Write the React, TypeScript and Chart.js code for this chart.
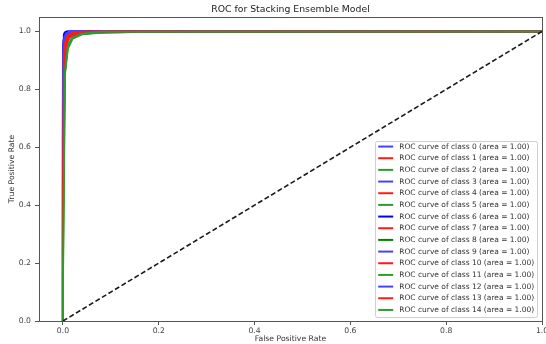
import React, { useEffect, useRef } from "react";
import { Chart, registerables } from "chart.js";

Chart.register(...registerables);

const FONT = "'DejaVu Sans', sans-serif";

const TITLE = "ROC for Stacking Ensemble Model";
const X_LABEL = "False Positive Rate";
const Y_LABEL = "True Positive Rate";
const X_TICKS = [0.0, 0.2, 0.4, 0.6, 0.8, 1.0];
const Y_TICKS = [0.0, 0.2, 0.4, 0.6, 0.8, 1.0];

const CLASS_IDS = [0, 1, 2, 3, 4, 5, 6, 7, 8, 9, 10, 11, 12, 13, 14];
const CLASS_AUC = [1.0, 1.0, 1.0, 1.0, 1.0, 1.0, 1.0, 1.0, 1.0, 1.0, 1.0, 1.0, 1.0, 1.0, 1.0];
const CLASS_COLORS = [
  "#4343ff", "#ff1a1a", "#2f9a2f",
  "#4343ff", "#ff1a1a", "#2f9a2f",
  "#0000ff", "#ff1a1a", "#008000",
  "#4343ff", "#ff1a1a", "#2f9a2f",
  "#4343ff", "#ff1a1a", "#2f9a2f",
];

// ROC curves (false positive rate / true positive rate) per class
const FPR_0 = [0, 0, 0.001, 0.003, 0.006, 0.012, 0.03, 1];
const TPR_0 = [0, 0.62, 0.94, 0.975, 0.99, 0.996, 1, 1];
const FPR_1 = [0, 0, 0.002, 0.005, 0.01, 0.02, 0.05, 1];
const TPR_1 = [0, 0.35, 0.9, 0.965, 0.985, 0.994, 1, 1];
const FPR_2 = [0, 0, 0.003, 0.007, 0.014, 0.03, 0.07, 1];
const TPR_2 = [0, 0.16, 0.88, 0.95, 0.98, 0.992, 1, 1];
const FPR_3 = [0, 0, 0.001, 0.002, 0.005, 0.01, 1];
const TPR_3 = [0, 0.8, 0.96, 0.985, 0.995, 1, 1];
const FPR_4 = [0, 0, 0.002, 0.006, 0.012, 0.025, 0.06, 0.19, 1];
const TPR_4 = [0, 0.55, 0.87, 0.95, 0.98, 0.99, 0.995, 1, 1];
const FPR_5 = [0, 0, 0.004, 0.009, 0.018, 0.035, 0.08, 1];
const TPR_5 = [0, 0.45, 0.86, 0.945, 0.975, 0.99, 0.998, 1];
const FPR_6 = [0, 0, 0.001, 0.002, 0.004, 0.008, 1];
const TPR_6 = [0, 0.88, 0.97, 0.99, 0.997, 1, 1];
const FPR_7 = [0, 0, 0.001, 0.004, 0.008, 0.016, 0.04, 1];
const TPR_7 = [0, 0.72, 0.92, 0.97, 0.988, 0.996, 1, 1];
const FPR_8 = [0, 0, 0.002, 0.005, 0.011, 0.022, 0.05, 1];
const TPR_8 = [0, 0.3, 0.9, 0.96, 0.982, 0.993, 1, 1];
const FPR_9 = [0, 0, 0.002, 0.004, 0.008, 0.016, 1];
const TPR_9 = [0, 0.68, 0.93, 0.975, 0.99, 1, 1];
const FPR_10 = [0, 0, 0.003, 0.007, 0.013, 0.028, 0.1, 1];
const TPR_10 = [0, 0.5, 0.89, 0.955, 0.98, 0.992, 1, 1];
const FPR_11 = [0, 0, 0.004, 0.01, 0.02, 0.04, 0.09, 0.23, 1];
const TPR_11 = [0, 0.25, 0.85, 0.94, 0.975, 0.99, 0.997, 1, 1];
const FPR_12 = [0, 0, 0.001, 0.003, 0.007, 0.014, 1];
const TPR_12 = [0, 0.75, 0.95, 0.98, 0.993, 1, 1];
const FPR_13 = [0, 0, 0.002, 0.005, 0.01, 0.02, 0.045, 1];
const TPR_13 = [0, 0.4, 0.91, 0.965, 0.985, 0.995, 1, 1];
const FPR_14 = [0, 0, 0.004, 0.01, 0.02, 0.04, 0.08, 1];
const TPR_14 = [0, 0.15, 0.86, 0.945, 0.978, 0.992, 0.999, 1];

const ALL_FPR = [FPR_0, FPR_1, FPR_2, FPR_3, FPR_4, FPR_5, FPR_6, FPR_7, FPR_8, FPR_9, FPR_10, FPR_11, FPR_12, FPR_13, FPR_14];
const ALL_TPR = [TPR_0, TPR_1, TPR_2, TPR_3, TPR_4, TPR_5, TPR_6, TPR_7, TPR_8, TPR_9, TPR_10, TPR_11, TPR_12, TPR_13, TPR_14];

const DIAG_X = [0, 1];
const DIAG_Y = [0, 1];

const frameAndLegend = {
  id: "frameAndLegend",
  afterDatasetsDraw(chart: any) {
    const { ctx, chartArea: a } = chart;
    ctx.save();
    ctx.strokeStyle = "#555";
    ctx.lineWidth = 1;
    ctx.strokeRect(
      Math.round(a.left) + 0.5,
      Math.round(a.top) + 0.5,
      Math.round(a.right) - Math.round(a.left),
      Math.round(a.bottom) - Math.round(a.top)
    );
    ctx.restore();
  },
  afterDraw(chart: any) {
    const { ctx, chartArea: a } = chart;
    const items = chart.data.datasets.filter((d: any) => d.label);
    const fs = 7.5;
    ctx.save();
    ctx.font = `${fs}px ${FONT}`;
    const maxW = Math.max(...items.map((d: any) => ctx.measureText(d.label).width));
    const pad = 2.8;
    const handleLen = 15;
    const handlePad = 6.0;
    const pitch = 11.67;
    const boxW = pad + handleLen + handlePad + maxW + pad;
    const boxH = items.length * pitch + 1;
    const right = a.right - 5;
    const bottom = a.bottom - 4;
    const left = right - boxW;
    const top = bottom - boxH;
    const r = 2;
    const x0 = Math.round(left) + 0.5;
    const y0 = Math.round(top) + 0.5;
    const w = Math.round(boxW);
    const h = Math.round(boxH);
    ctx.beginPath();
    ctx.moveTo(x0 + r, y0);
    ctx.lineTo(x0 + w - r, y0);
    ctx.arcTo(x0 + w, y0, x0 + w, y0 + r, r);
    ctx.lineTo(x0 + w, y0 + h - r);
    ctx.arcTo(x0 + w, y0 + h, x0 + w - r, y0 + h, r);
    ctx.lineTo(x0 + r, y0 + h);
    ctx.arcTo(x0, y0 + h, x0, y0 + h - r, r);
    ctx.lineTo(x0, y0 + r);
    ctx.arcTo(x0, y0, x0 + r, y0, r);
    ctx.closePath();
    ctx.fillStyle = "rgba(255,255,255,0.85)";
    ctx.fill();
    ctx.strokeStyle = "#cfcfcf";
    ctx.lineWidth = 1;
    ctx.stroke();
    items.forEach((d: any, i: number) => {
      const y = top + 5.6 + i * pitch;
      ctx.strokeStyle = d.borderColor;
      ctx.lineWidth = 2;
      ctx.beginPath();
      ctx.moveTo(left + pad, y);
      ctx.lineTo(left + pad + handleLen, y);
      ctx.stroke();
      ctx.fillStyle = "#333";
      ctx.textBaseline = "middle";
      ctx.textAlign = "left";
      ctx.fillText(d.label, left + pad + handleLen + handlePad, y);
    });
    ctx.restore();
  },
};

export default function App() {
  const ref = useRef<HTMLCanvasElement>(null);

  useEffect(() => {
    document.body.style.margin = "0";
    document.body.style.overflow = "hidden";
    if (!ref.current) return;

    const datasets: any[] = CLASS_IDS.map((id, i) => ({
      label: `ROC curve of class ${id} (area = ${CLASS_AUC[i].toFixed(2)})`,
      data: ALL_FPR[i].map((x, k) => ({ x, y: ALL_TPR[i][k] })),
      borderColor: CLASS_COLORS[i],
      backgroundColor: CLASS_COLORS[i],
      borderWidth: 2,
      pointRadius: 0,
      tension: 0,
      fill: false,
      borderJoinStyle: "round",
      order: 100 - i,
    }));
    datasets.push({
      label: "",
      data: DIAG_X.map((x, k) => ({ x, y: DIAG_Y[k] })),
      borderColor: "#1a1a1a",
      borderWidth: 1.6,
      borderDash: [5, 2.6],
      pointRadius: 0,
      fill: false,
      order: 0,
    });

    const tickFont = { family: FONT, size: 7.7 };

    const chart = new Chart(ref.current, {
      type: "line",
      data: { datasets },
      options: {
        responsive: false,
        animation: false,
        devicePixelRatio: 1,
        layout: { padding: { left: 0, right: 28, top: 0, bottom: 0 } },
        plugins: {
          legend: { display: false },
          tooltip: { enabled: false },
          title: {
            display: true,
            text: TITLE,
            fullSize: false,
            color: "#222",
            font: { family: FONT, size: 9.3, weight: "normal" },
            padding: { top: 4.5, bottom: 1.3 },
          },
        },
        scales: {
          x: {
            type: "linear",
            min: -0.05,
            max: 1.0,
            afterBuildTicks: (s: any) => {
              s.ticks = X_TICKS.map((v) => ({ value: v }));
            },
            afterFit: (s: any) => {
              s.height = 23;
            },
            ticks: {
              callback: (v: any) => Number(v).toFixed(1),
              font: tickFont,
              color: "#444",
              padding: 1,
              maxRotation: 0,
              autoSkip: false,
            },
            grid: {
              display: true,
              drawOnChartArea: false,
              drawTicks: true,
              tickLength: 4,
              color: "#555",
              tickColor: "#555",
            },
            border: { display: false },
            title: {
              display: true,
              text: X_LABEL,
              color: "#333",
              font: tickFont,
              padding: { top: 0, bottom: 0 },
            },
          },
          y: {
            type: "linear",
            min: 0,
            max: 1.05,
            afterBuildTicks: (s: any) => {
              s.ticks = Y_TICKS.map((v) => ({ value: v }));
            },
            afterFit: (s: any) => {
              s.width = 39;
            },
            ticks: {
              callback: (v: any) => Number(v).toFixed(1),
              font: tickFont,
              color: "#444",
              padding: 4,
              autoSkip: false,
            },
            grid: {
              display: true,
              drawOnChartArea: false,
              drawTicks: true,
              tickLength: 4,
              color: "#555",
              tickColor: "#555",
            },
            border: { display: false },
            title: {
              display: true,
              text: Y_LABEL,
              color: "#333",
              font: tickFont,
              padding: { top: 7.4, bottom: 0 },
            },
          },
        },
      } as any,
      plugins: [frameAndLegend],
    });

    return () => chart.destroy();
  }, []);

  return (
    <div style={{ width: 546, height: 344, overflow: "hidden", background: "#fff" }}>
      <canvas ref={ref} width={570} height={344} style={{ display: "block", width: 570, height: 344 }} />
    </div>
  );
}
